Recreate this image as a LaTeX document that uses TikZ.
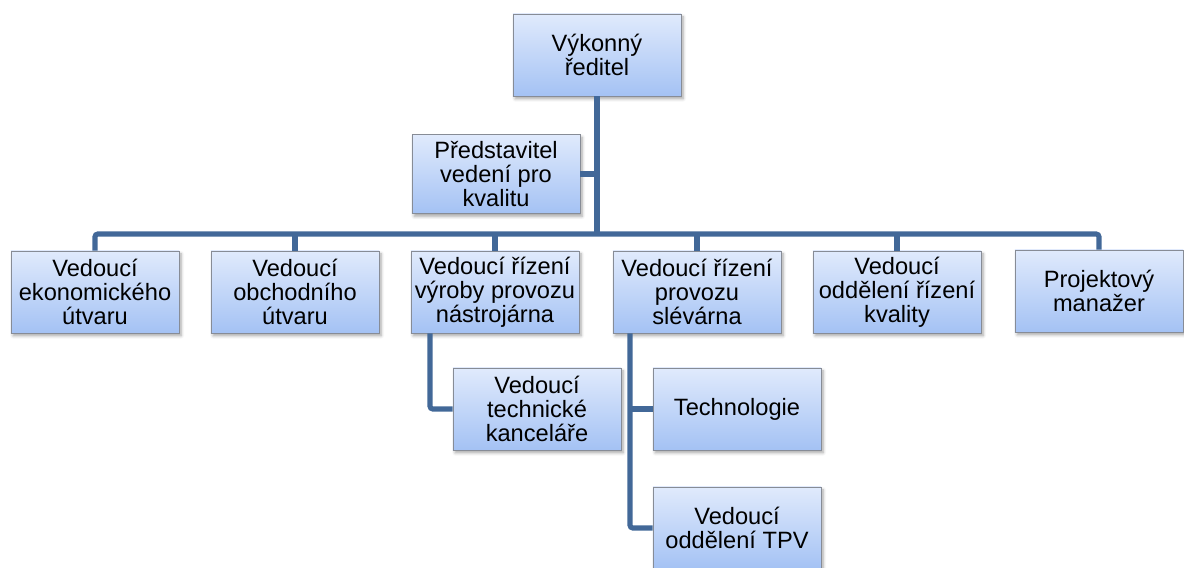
\documentclass[tikz,border=0pt]{standalone}
\usepackage{fontspec}
\setmainfont{Liberation Sans}
\usetikzlibrary{shadows.blur}
\definecolor{linkblue}{RGB}{66,104,152}
\definecolor{boxtop}{RGB}{224,234,252}
\definecolor{boxbottom}{RGB}{164,194,244}
\definecolor{boxedge}{RGB}{135,140,150}

\tikzset{
  unit/.style={rectangle, draw=boxedge, line width=0.6pt,
    top color=boxtop, bottom color=boxbottom,
    blur shadow={shadow xshift=1.5pt, shadow yshift=-2pt, shadow blur steps=6, shadow opacity=35},
    minimum width=4.2cm, minimum height=2.05cm, inner sep=0pt,
    align=center, font=\fontsize{16.8}{17.2}\selectfont},
  link/.style={draw=linkblue, line width=3.6pt, rounded corners=2pt}
}

\begin{document}
\begin{tikzpicture}[x=0.025cm, y=-0.025cm]

\useasboundingbox (0,0) rectangle (1184,567);

%director and quality representative
\node [unit] (ceo) at (597,55) {Výkonný\\ředitel} ;
\node [unit, minimum height=1.98cm] (qrep) at (496,174) {Představitel\\vedení pro\\kvalitu} ;

%first level
\node [unit] (econ) at (95,292) {Vedoucí\\ekonomického\\útvaru} ;
\node [unit] (sales) at (295,292) {Vedoucí\\obchodního\\útvaru} ;
\node [unit] (tool) at (495,292) {Vedoucí řízení\\výroby provozu\\nástrojárna} ;
\node [unit] (foundry) at (697,292) {Vedoucí řízení\\provozu\\slévárna} ;
\node [unit] (quality) at (897,292) {Vedoucí\\oddělení řízení\\kvality} ;
\node [unit] (project) at (1099,291) {Projektový\\manažer} ;

%second level
\node [unit] (techoffice) at (537,409) {Vedoucí\\technické\\kanceláře} ;
\node [unit] (technology) at (737,409) {Technologie} ;
\node [unit] (tpv) at (737,528) {Vedoucí\\oddělení TPV} ;

%bus
\coordinate (bus) at (597,234) ;

%connectors
\draw [link] (ceo.south) -- (ceo.south |- bus) ;
\draw [link] (qrep.east) -- (qrep.east -| ceo.south) ;
\draw [link] (econ.north) -- (econ.north |- bus) -- (project.north |- bus) -- (project.north) ;
\draw [link] (sales.north) -- (sales.north |- bus) ;
\draw [link] (tool.north) -- (tool.north |- bus) ;
\draw [link] (foundry.north) -- (foundry.north |- bus) ;
\draw [link] (quality.north) -- (quality.north |- bus) ;

\draw [link] ([xshift=-1.625cm]tool.south) |- (techoffice.west) ;
\draw [link] ([xshift=-1.675cm]foundry.south) |- (tpv.west) ;
\draw [link] ([xshift=-1.675cm]foundry.south |- technology.west) -- (technology.west) ;

\end{tikzpicture}
\end{document}
